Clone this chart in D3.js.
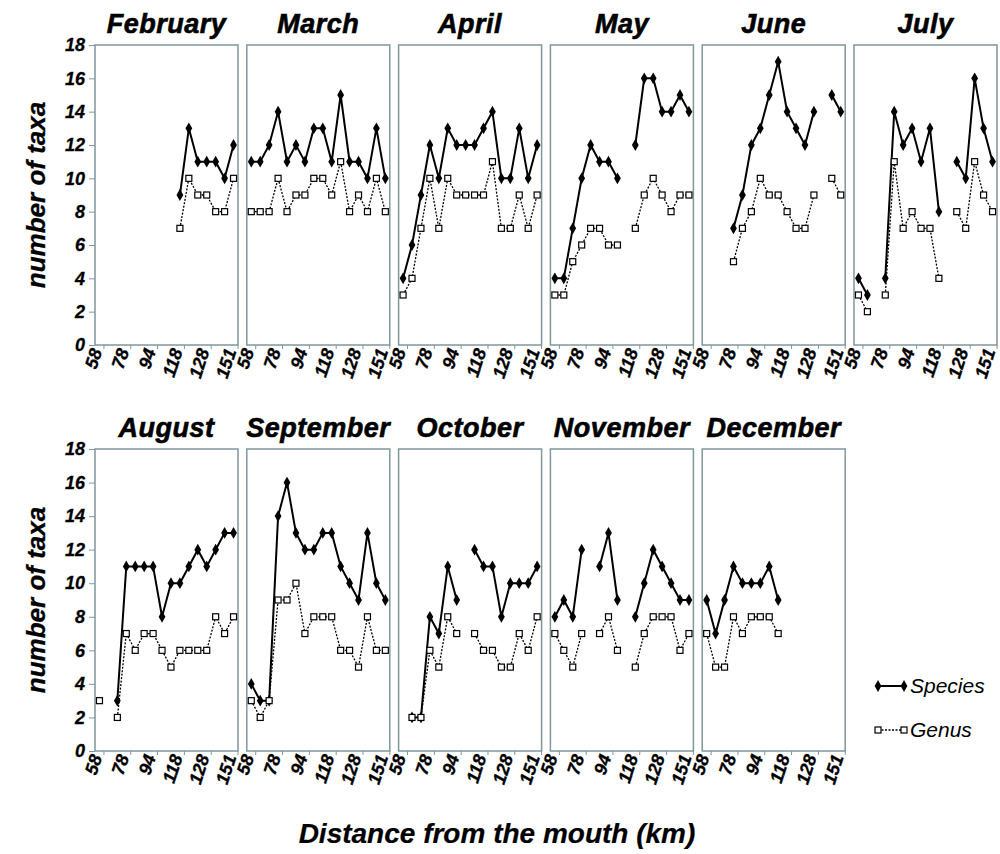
<!DOCTYPE html>
<html>
<head>
<meta charset="utf-8">
<script src="https://cdn.jsdelivr.net/npm/d3@7"></script>
<style>
  body { margin: 0; background: white; }
  text { font-family: "Liberation Sans", Arial, sans-serif; }
</style>
</head>
<body>
<div id="visualisationDiv" style="width:1000px;height:854px;"></div>
<script>
// 16 sampling sites along the river, only some are labelled
var sites = ["s1","s2","s3","s4","s5","s6","s7","s8","s9","s10","s11","s12","s13","s14","s15","s16"];
var siteLabels = {s1: "58", s4: "78", s7: "94", s10: "118", s13: "128", s16: "151"};
var yTicks = [0, 2, 4, 6, 8, 10, 12, 14, 16, 18];

var months = ["February","March","April","May","June","July","August","September","October","November","December"];

var N = null;
var species = {
  February:  [N,N,N,N,N,N,N,N,N,9,13,11,11,11,10,12],
  March:     [11,11,12,14,11,12,11,13,13,11,15,11,11,10,13,10],
  April:     [4,6,9,12,10,13,12,12,12,13,14,10,10,13,10,12],
  May:       [4,4,7,10,12,11,11,10,N,12,16,16,14,14,15,14],
  June:      [N,N,N,7,9,12,13,15,17,14,13,12,14,N,15,14],
  July:      [4,3,N,4,14,12,13,11,13,8,N,11,10,16,13,11],
  August:    [N,N,3,11,11,11,11,8,10,10,11,12,11,12,13,13],
  September: [4,3,3,14,16,13,12,12,13,13,11,10,9,13,10,9],
  October:   [N,2,2,8,7,11,9,N,12,11,11,8,10,10,10,11],
  November:  [8,9,8,12,N,11,13,9,N,8,10,12,11,10,9,9],
  December:  [9,7,9,11,10,10,10,11,9,N,N,N,N,N,N,N]
};
var genus = {
  February:  [N,N,N,N,N,N,N,N,N,7,10,9,9,8,8,10],
  March:     [8,8,8,10,8,9,9,10,10,9,11,8,9,8,10,8],
  April:     [3,4,7,10,7,10,9,9,9,9,11,7,7,9,7,9],
  May:       [3,3,5,6,7,7,6,6,N,7,9,10,9,8,9,9],
  June:      [N,N,N,5,7,8,10,9,9,8,7,7,9,N,10,9],
  July:      [3,2,N,3,11,7,8,7,7,4,N,8,7,11,9,8],
  August:    [3,N,2,7,6,7,7,6,5,6,6,6,6,8,7,8],
  September: [3,2,3,9,9,10,7,8,8,8,6,6,5,8,6,6],
  October:   [N,2,2,6,5,8,7,N,7,6,6,5,5,7,6,8],
  November:  [7,6,5,7,N,7,8,6,N,5,7,8,8,8,6,7],
  December:  [7,5,5,8,7,8,8,8,7,N,N,N,N,N,N,N]
};

var width = 1000, height = 854;
var frameColour = "#7f979c";

var svg = d3.select("#visualisationDiv").append("svg")
  .attr("width", width)
  .attr("height", height);

svg.append("rect").attr("width", width).attr("height", height).attr("fill", "white");

var panelW = 143, stepX = 151.8, left0 = 95;
var rows = [{top: 45, bottom: 345}, {top: 449, bottom: 751}];

var x = d3.scalePoint().domain(sites).range([0, panelW]).padding(0.5);

var lineOf = function(y) {
  return d3.line()
    .defined(function(d) { return d.v != null; })
    .x(function(d) { return x(d.site); })
    .y(function(d) { return y(d.v); });
};

var diamond = d3.symbol().type(d3.symbolDiamond).size(40);

// heavy italic text, the original uses a black-weight face
function heavy(sel, size) {
  sel.attr("font-size", size)
    .attr("font-weight", "bold")
    .attr("font-style", "italic")
    .attr("stroke", "black")
    .attr("stroke-width", 0.6)
    .attr("fill", "black");
}

months.forEach(function(m, i) {
  var row = i < 6 ? 0 : 1;
  var col = i < 6 ? i : i - 6;
  var r = rows[row];
  var px = left0 + col * stepX;

  var y = d3.scaleLinear().domain([0, 18]).range([r.bottom - r.top, 0]);

  var g = svg.append("g").attr("transform", "translate(" + px + "," + r.top + ")");

  // month title
  g.append("text")
    .attr("x", panelW / 2)
    .attr("y", -12)
    .attr("text-anchor", "middle")
    .attr("letter-spacing", 0.5)
    .call(heavy, 27)
    .text(m);

  // frame
  g.append("rect")
    .attr("width", panelW)
    .attr("height", r.bottom - r.top)
    .attr("fill", "none")
    .attr("stroke", frameColour)
    .attr("stroke-width", 1.5);

  // x axis labels
  var xAxis = g.append("g").attr("transform", "translate(0," + (r.bottom - r.top) + ")");
  xAxis.selectAll("text.xl")
    .data(sites.filter(function(s) { return siteLabels[s]; }))
    .enter().append("text")
      .attr("class", "xl")
      .attr("transform", function(s) { return "translate(" + (x(s) + 3) + ",6) rotate(-72)"; })
      .attr("text-anchor", "end")
      .call(heavy, 18)
      .attr("stroke-width", 0.3)
      .text(function(s) { return siteLabels[s]; });
  xAxis.selectAll("line.tk")
    .data(sites.filter(function(s) { return siteLabels[s]; }))
    .enter().append("line")
      .attr("class", "tk")
      .attr("x1", function(s) { return x(s) + x.step() / 2; })
      .attr("x2", function(s) { return x(s) + x.step() / 2; })
      .attr("y1", 0).attr("y2", 4)
      .attr("stroke", frameColour);

  // y axis on the first panel of each row
  if (col == 0) {
    var yAxis = g.append("g")
      .call(d3.axisLeft(y).tickValues(yTicks).tickSize(6).tickPadding(4));
    yAxis.select(".domain").remove();
    yAxis.selectAll("line").attr("stroke", frameColour);
    yAxis.selectAll("text")
      .attr("font-family", "Liberation Sans, Arial, sans-serif")
      .call(heavy, 18)
      .attr("stroke-width", 0.3);

    svg.append("text")
      .attr("transform", "translate(45," + ((r.top + r.bottom) / 2) + ") rotate(-90)")
      .attr("text-anchor", "middle")
      .call(heavy, 26)
      .attr("stroke-width", 0.3)
      .text("number of taxa");
  }

  var sp = sites.map(function(s, k) { return {site: s, v: species[m][k]}; });
  var ge = sites.map(function(s, k) { return {site: s, v: genus[m][k]}; });

  g.append("path")
    .datum(sp)
    .attr("d", lineOf(y))
    .attr("fill", "none")
    .attr("stroke", "black")
    .attr("stroke-width", 2);
  g.selectAll("path.sp")
    .data(sp.filter(function(d) { return d.v != null; }))
    .enter().append("path")
      .attr("class", "sp")
      .attr("d", diamond)
      .attr("transform", function(d) { return "translate(" + x(d.site) + "," + y(d.v) + ")"; })
      .attr("fill", "black");

  g.append("path")
    .datum(ge)
    .attr("d", lineOf(y))
    .attr("fill", "none")
    .attr("stroke", "black")
    .attr("stroke-width", 1.3)
    .attr("stroke-dasharray", "2,1.5");
  g.selectAll("rect.ge")
    .data(ge.filter(function(d) { return d.v != null; }))
    .enter().append("rect")
      .attr("class", "ge")
      .attr("x", function(d) { return x(d.site) - 3; })
      .attr("y", function(d) { return y(d.v) - 3; })
      .attr("width", 6)
      .attr("height", 6)
      .attr("fill", "white")
      .attr("stroke", "black")
      .attr("stroke-width", 1.2);
});

// x axis title
svg.append("text")
  .attr("x", 497)
  .attr("y", 843)
  .attr("text-anchor", "middle")
  .call(heavy, 28)
  .attr("stroke-width", 0.2)
  .text("Distance from the mouth (km)");

// legend
var legend = svg.append("g").attr("transform", "translate(878,0)");
legend.append("line").attr("x1", 0).attr("x2", 26).attr("y1", 686).attr("y2", 686)
  .attr("stroke", "black").attr("stroke-width", 2);
legend.selectAll("path.ld").data([0, 26]).enter().append("path")
  .attr("d", diamond)
  .attr("transform", function(d) { return "translate(" + d + ",686)"; });
legend.append("text").attr("x", 32).attr("y", 693)
  .attr("font-size", 21).attr("font-style", "italic").text("Species");

legend.append("line").attr("x1", 0).attr("x2", 26).attr("y1", 730).attr("y2", 730)
  .attr("stroke", "black").attr("stroke-width", 1.3).attr("stroke-dasharray", "2,1.5");
legend.selectAll("rect.lg").data([0, 26]).enter().append("rect")
  .attr("x", function(d) { return d - 3; }).attr("y", 727)
  .attr("width", 6).attr("height", 6)
  .attr("fill", "white").attr("stroke", "black").attr("stroke-width", 1.2);
legend.append("text").attr("x", 32).attr("y", 737)
  .attr("font-size", 21).attr("font-style", "italic").text("Genus");
</script>
</body>
</html>
